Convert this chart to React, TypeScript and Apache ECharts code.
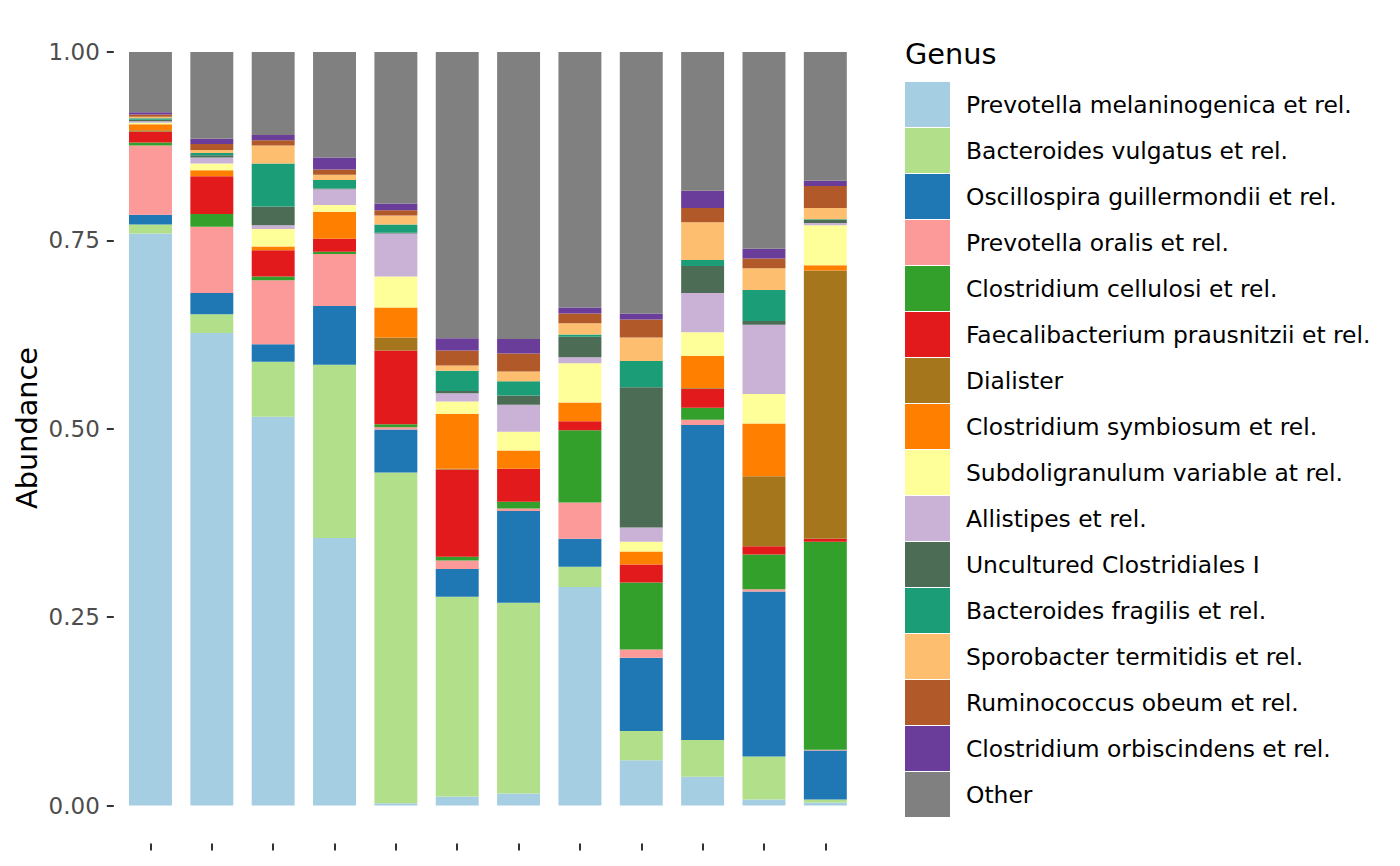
import React, { useEffect, useRef } from "react";
import * as echarts from "echarts";

const samples = ["S01", "S02", "S03", "S04", "S05", "S06", "S07", "S08", "S09", "S10", "S11", "S12"];

const genera = [
  "Prevotella melaninogenica et rel.",
  "Bacteroides vulgatus et rel.",
  "Oscillospira guillermondii et rel.",
  "Prevotella oralis et rel.",
  "Clostridium cellulosi et rel.",
  "Faecalibacterium prausnitzii et rel.",
  "Dialister",
  "Clostridium symbiosum et rel.",
  "Subdoligranulum variable at rel.",
  "Allistipes et rel.",
  "Uncultured Clostridiales I",
  "Bacteroides fragilis et rel.",
  "Sporobacter termitidis et rel.",
  "Ruminococcus obeum et rel.",
  "Clostridium orbiscindens et rel.",
  "Other",
];

const colors = [
  "#A6CEE3", "#B2DF8A", "#1F78B4", "#FB9A99", "#33A02C", "#E31A1C", "#A6761D", "#FF7F00",
  "#FFFF99", "#CAB2D6", "#4D6C56", "#1B9E77", "#FDBF6F", "#B15928", "#6A3D9A", "#808080",
];

const prevotellaMelaninogenica = [0.759, 0.627, 0.516, 0.355, 0.003, 0.012, 0.016, 0.290, 0.060, 0.038, 0.008, 0.004];
const bacteroidesVulgatus = [0.012, 0.025, 0.073, 0.230, 0.439, 0.265, 0.253, 0.027, 0.039, 0.049, 0.057, 0.004];
const oscillospira = [0.013, 0.028, 0.023, 0.078, 0.057, 0.037, 0.122, 0.037, 0.097, 0.418, 0.219, 0.065];
const prevotellaOralis = [0.092, 0.088, 0.085, 0.069, 0.003, 0.011, 0.003, 0.048, 0.011, 0.007, 0.003, 0.001];
const clostridiumCellulosi = [0.004, 0.017, 0.005, 0.003, 0.004, 0.005, 0.009, 0.096, 0.089, 0.016, 0.046, 0.276];
const faecalibacterium = [0.014, 0.050, 0.035, 0.017, 0.098, 0.116, 0.044, 0.012, 0.024, 0.025, 0.011, 0.004];
const dialister = [0.002, 0, 0, 0, 0.017, 0.001, 0, 0, 0, 0.001, 0.093, 0.356];
const clostridiumSymbiosum = [0.008, 0.008, 0.005, 0.036, 0.040, 0.073, 0.024, 0.025, 0.017, 0.043, 0.070, 0.007];
const subdoligranulum = [0.002, 0.009, 0.023, 0.009, 0.041, 0.016, 0.025, 0.052, 0.013, 0.031, 0.039, 0.053];
const allistipes = [0.002, 0.008, 0.005, 0.021, 0.057, 0.011, 0.036, 0.008, 0.019, 0.052, 0.092, 0.003];
const unculturedClostridiales = [0.002, 0.003, 0.025, 0.001, 0.001, 0.003, 0.012, 0.027, 0.186, 0.036, 0.005, 0.004];
const bacteroidesFragilis = [0.002, 0.003, 0.057, 0.011, 0.011, 0.027, 0.019, 0.003, 0.035, 0.008, 0.041, 0.001];
const sporobacter = [0.002, 0.004, 0.024, 0.007, 0.012, 0.007, 0.013, 0.015, 0.031, 0.050, 0.029, 0.015];
const ruminococcus = [0.003, 0.008, 0.007, 0.007, 0.007, 0.020, 0.024, 0.013, 0.024, 0.019, 0.013, 0.029];
const clostridiumOrbiscindens = [0.003, 0.007, 0.007, 0.016, 0.009, 0.016, 0.019, 0.008, 0.008, 0.023, 0.013, 0.007];
const other = [0.080, 0.116, 0.112, 0.141, 0.202, 0.382, 0.382, 0.341, 0.350, 0.186, 0.261, 0.173];

const seriesValues = [
  prevotellaMelaninogenica, bacteroidesVulgatus, oscillospira, prevotellaOralis,
  clostridiumCellulosi, faecalibacterium, dialister, clostridiumSymbiosum,
  subdoligranulum, allistipes, unculturedClostridiales, bacteroidesFragilis,
  sporobacter, ruminococcus, clostridiumOrbiscindens, other,
];

const yTicks = [0, 0.25, 0.5, 0.75, 1];

const FONT = "DejaVu Sans";

export default function App() {
  const ref = useRef<HTMLDivElement>(null);
  useEffect(() => {
    if (!ref.current) return;
    const chart = echarts.init(ref.current, null, { renderer: "svg" });
    chart.setOption({
      animation: false,
      backgroundColor: "#ffffff",
      grid: { left: 119.8, right: 544, top: 52, bottom: 60.5, containLabel: false },
      legend: {
        show: true,
        orient: "vertical",
        left: 905,
        top: 82,
        padding: 0,
        itemWidth: 45,
        itemHeight: 45,
        itemGap: 1,
        icon: "rect",
        selectedMode: false,
        data: genera,
        textStyle: { fontFamily: FONT, fontSize: 23.4, color: "#000000", padding: [0, 0, 0, 11] },
      },
      graphic: [
        {
          type: "text",
          left: 905,
          top: 39,
          style: { text: "Genus", fontFamily: FONT, fontSize: 28.75, fill: "#000000" },
        },
        {
          type: "text",
          x: 27,
          y: 428,
          rotation: Math.PI / 2,
          style: {
            text: "Abundance",
            fontFamily: FONT,
            fontSize: 28.75,
            fill: "#000000",
            align: "center",
            verticalAlign: "middle",
          },
        },
      ],
      xAxis: {
        type: "category",
        data: samples,
        offset: 38,
        axisLine: { show: false, onZero: false },
        axisTick: { show: true, alignWithLabel: true, length: 7, lineStyle: { color: "#333333", width: 2 } },
        axisLabel: { show: false },
        splitLine: { show: false },
      },
      yAxis: {
        type: "value",
        min: yTicks[0],
        max: yTicks[yTicks.length - 1],
        interval: 0.25,
        offset: 6,
        axisLine: { show: false, onZero: false },
        axisTick: { show: true, length: 7, lineStyle: { color: "#333333", width: 2 } },
        axisLabel: {
          margin: 14,
          fontFamily: FONT,
          fontSize: 23,
          color: "#4D4D4D",
          formatter: (v: number) => v.toFixed(2),
        },
        splitLine: { show: false },
      },
      series: genera.map((name, i) => ({
        name,
        type: "bar",
        stack: "total",
        data: seriesValues[i],
        barWidth: "70%",
        itemStyle: { color: colors[i] },
        emphasis: { disabled: true },
      })),
    });
    return () => chart.dispose();
  }, []);
  return (
    <div
      ref={ref}
      style={{ position: "fixed", left: 0, top: 0, width: 1400, height: 866, background: "#fff" }}
    />
  );
}
